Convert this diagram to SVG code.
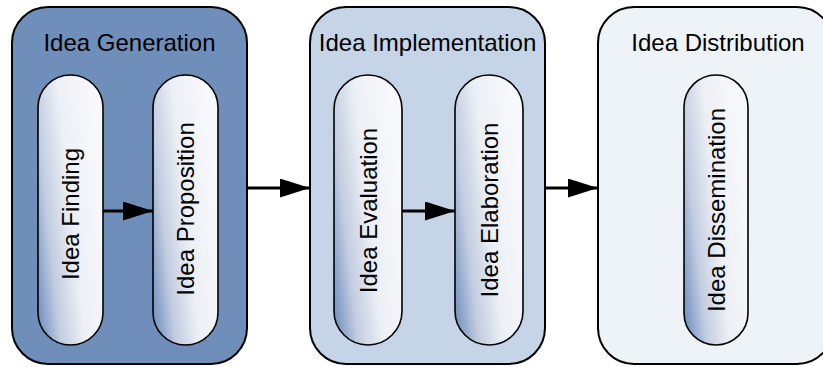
<svg xmlns="http://www.w3.org/2000/svg" width="823" height="367" viewBox="0 0 823 367">
<defs>
<linearGradient id="pill" x1="0" y1="1" x2="1" y2="0.55">
<stop offset="0" stop-color="#6688ba"/>
<stop offset="0.3" stop-color="#c2cde0"/>
<stop offset="0.6" stop-color="#eceff5"/>
<stop offset="1" stop-color="#f7f8fb"/>
</linearGradient>
<marker id="ah2" markerWidth="30" markerHeight="19" refX="30" refY="9.5" orient="auto" markerUnits="userSpaceOnUse">
<path d="M0,0 L30,9.5 L0,19 Z" fill="#000"/>
</marker>
</defs>
<style>
.cont{stroke:#000;stroke-width:2}
.pill{fill:url(#pill);stroke:#000;stroke-width:1.6}
.title{font-family:"Liberation Sans",Arial,sans-serif;font-size:24px;fill:#000;text-anchor:middle}
.lbl{font-family:"Liberation Sans",Arial,sans-serif;font-size:24px;fill:#000;text-anchor:middle}
.conn{stroke:#000;stroke-width:3;fill:none;marker-end:url(#ah2)}
</style>
<g id="idea-generation">
<rect class="cont" x="12" y="7" width="235" height="357" rx="36" fill="#6f8fba"/>
<text class="title" x="129.5" y="51">Idea Generation</text>
</g>
<g id="idea-implementation">
<rect class="cont" x="310" y="7" width="235" height="357" rx="36" fill="#c5d4e6"/>
<text class="title" x="427.5" y="51">Idea Implementation</text>
</g>
<g id="idea-distribution">
<rect class="cont" x="598" y="7" width="235" height="357" rx="36" fill="#eef3f8"/>
<text class="title" x="718" y="51">Idea Distribution</text>
</g>
<g id="idea-finding">
<rect class="pill" x="38" y="75" width="65" height="270" rx="32.5"/>
<text class="lbl" transform="translate(79,214) rotate(-90)">Idea Finding</text>
</g>
<g id="idea-proposition">
<rect class="pill" x="153" y="75" width="65" height="270" rx="32.5"/>
<text class="lbl" transform="translate(194,209) rotate(-90)">Idea Proposition</text>
</g>
<g id="idea-evaluation">
<rect class="pill" x="334" y="75" width="68" height="270" rx="34"/>
<text class="lbl" transform="translate(376.5,210.5) rotate(-90)">Idea Evaluation</text>
</g>
<g id="idea-elaboration">
<rect class="pill" x="455" y="75" width="68" height="270" rx="34"/>
<text class="lbl" transform="translate(497.5,210) rotate(-90)">Idea Elaboration</text>
</g>
<g id="idea-dissemination">
<rect class="pill" x="684" y="75" width="64" height="270" rx="32"/>
<text class="lbl" transform="translate(724.5,210) rotate(-90)">Idea Dissemination</text>
</g>
<g id="connectors">
<line class="conn" x1="103" y1="211" x2="153" y2="211"/>
<line class="conn" x1="402" y1="211" x2="455" y2="211"/>
<line class="conn" x1="247" y1="188" x2="310" y2="188"/>
<line class="conn" x1="545" y1="188" x2="598" y2="188"/>
</g>
</svg>
